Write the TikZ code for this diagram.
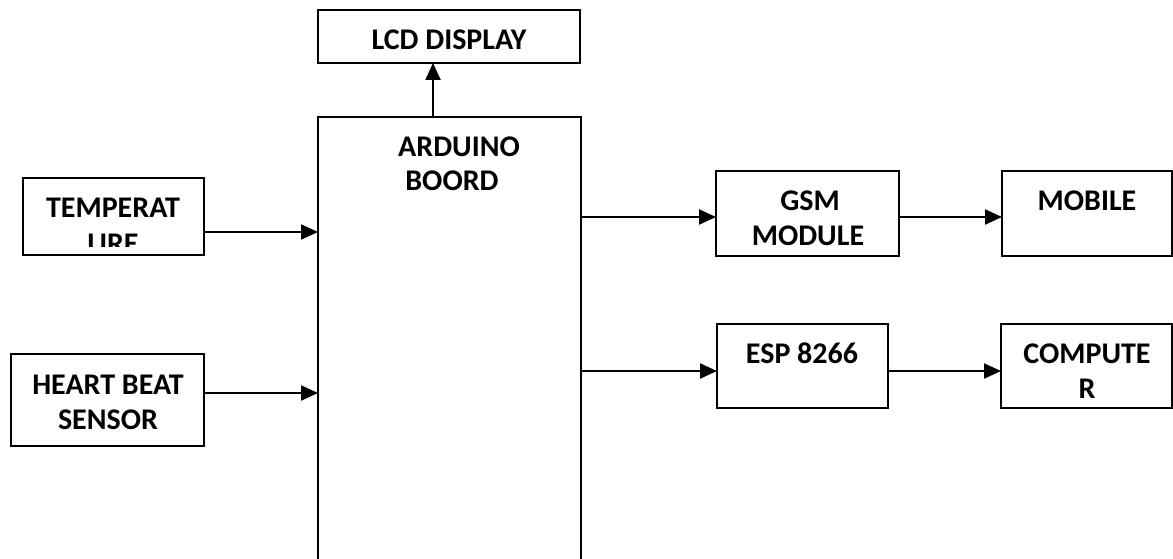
\documentclass[tikz,border=0pt]{standalone}
\usepackage{fontspec}
\setmainfont{Carlito}
\usetikzlibrary{arrows.meta}
\begin{document}
\begin{tikzpicture}[x=1pt,y=-1pt,
  blk/.style={draw, line width=1.8pt, inner sep=0pt, outer sep=0pt},
  lbl/.style={anchor=base, inner sep=0pt, font=\fontsize{30}{36}\selectfont\bfseries},
  arr/.style={line width=2.2pt, -{Triangle[length=17pt,width=15pt]}}]
\clip (0,0) rectangle (1173,559);
\fill[white] (0,0) rectangle (1173,559);
% boxes
\node[blk, minimum width=262pt, minimum height=53pt] (lcd) at (449,36.5) {};
\node[blk, minimum width=263pt, minimum height=503pt] (ard) at (449.5,368.5) {};
\node[blk, minimum width=181pt, minimum height=77pt] (temp) at (113.5,216.5) {};
\node[blk, minimum width=193pt, minimum height=92pt] (heart) at (107.5,400) {};
\node[blk, minimum width=183pt, minimum height=85pt] (gsm) at (807.5,213.5) {};
\node[blk, minimum width=170pt, minimum height=85pt] (mob) at (1087,213.5) {};
\node[blk, minimum width=171pt, minimum height=84pt] (esp) at (802.5,366) {};
\node[blk, minimum width=171pt, minimum height=84pt] (comp) at (1086.5,366) {};
% labels
\node[lbl] (lcdt) at (449,50) {LCD DISPLAY};
\node[lbl] (ardt1) at (459,157) {ARDUINO};
\node[lbl] (ardt2) at (452,190) {BOORD};
\node[lbl] (tempt1) at (113,217) {TEMPERAT};
\begin{scope}
  \clip (23,178) rectangle (204,246);
  \node[lbl] (tempt2) at (113,253) {URE};
\end{scope}
\node[lbl] (heartt1) at (108,394) {HEART BEAT};
\node[lbl] (heartt2) at (108,429) {SENSOR};
\node[lbl] (gsmt1) at (810,211) {GSM};
\node[lbl] (gsmt2) at (808,245) {MODULE};
\node[lbl] (mobt) at (1087,210) {MOBILE};
\node[lbl] (espt) at (802,363) {ESP 8266};
\node[lbl] (compt1) at (1087,363) {COMPUTE};
\node[lbl] (compt2) at (1087,398) {R};
% connectors
\draw[arr] (ard.north -| 433,0) -- (lcd.south -| 433,0);
\draw[arr] (temp.east |- 0,232) -- (ard.west |- 0,232);
\draw[arr] (heart.east |- 0,393) -- (ard.west |- 0,393);
\draw[arr] (ard.east |- 0,217) -- (gsm.west |- 0,217);
\draw[arr] (gsm.east |- 0,217) -- (mob.west |- 0,217);
\draw[arr] (ard.east |- 0,371) -- (esp.west |- 0,371);
\draw[arr] (esp.east |- 0,371) -- (comp.west |- 0,371);
\end{tikzpicture}
\end{document}
